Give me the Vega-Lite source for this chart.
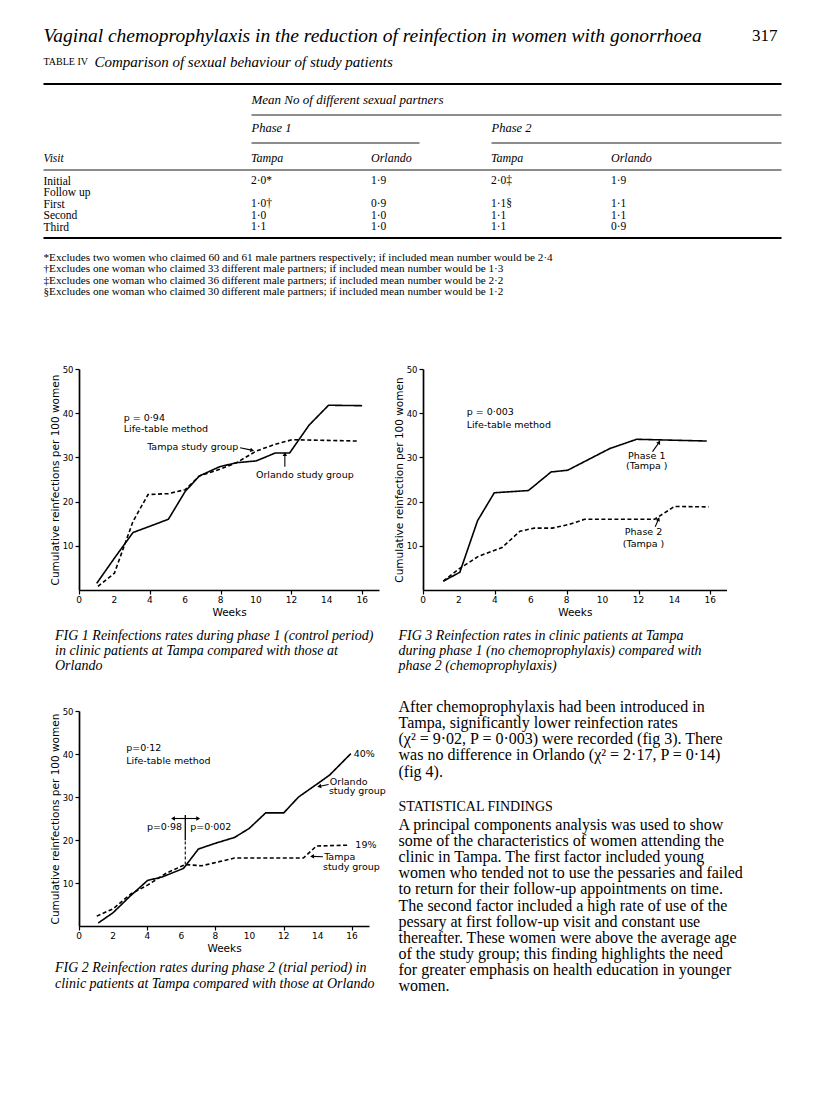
{
"$schema": "https://vega.github.io/schema/vega-lite/v6.json",
"background": "white",
"padding": {"left": 42, "top": 0, "right": 0, "bottom": 0},
"columns": 2,
"spacing": {"row": 121, "column": 0},
"bounds": "flush",
"align": "each",
"config": {
  "view": {"stroke": null},
  "axis": {"domainColor": "black", "tickColor": "black", "labelColor": "black", "titleColor": "black", "labelFont": "DejaVu Sans", "titleFont": "DejaVu Sans", "labelFontSize": 9, "titleFontSize": 10.5, "titleFontWeight": "normal", "grid": false, "domainWidth": 1.7, "tickWidth": 1.2, "tickSize": 4, "labelFlush": false, "labelOverlap": false},
  "axisY": {"labelFontSize": 8.5},
  "text": {"color": "black"},
  "rule": {"color": "black"},
  "line": {"color": "black"},
  "point": {"color": "black"},
  "title": {"color": "black"}
},
"concat": [
{
  "width": 343.5, "height": 248,
  "data": {"values": [
    {"visit": "Visit", "col": "P1 Tampa", "v": "Tampa"},
    {"visit": "Visit", "col": "P1 Orlando", "v": "Orlando"},
    {"visit": "Visit", "col": "P2 Tampa", "v": "Tampa"},
    {"visit": "Visit", "col": "P2 Orlando", "v": "Orlando"},
    {"visit": "Initial", "col": "P1 Tampa", "v": "2·0*"},
    {"visit": "Initial", "col": "P1 Orlando", "v": "1·9"},
    {"visit": "Initial", "col": "P2 Tampa", "v": "2·0‡"},
    {"visit": "Initial", "col": "P2 Orlando", "v": "1·9"},
    {"visit": "First", "col": "P1 Tampa", "v": "1·0†"},
    {"visit": "First", "col": "P1 Orlando", "v": "0·9"},
    {"visit": "First", "col": "P2 Tampa", "v": "1·1§"},
    {"visit": "First", "col": "P2 Orlando", "v": "1·1"},
    {"visit": "Second", "col": "P1 Tampa", "v": "1·0"},
    {"visit": "Second", "col": "P1 Orlando", "v": "1·0"},
    {"visit": "Second", "col": "P2 Tampa", "v": "1·1"},
    {"visit": "Second", "col": "P2 Orlando", "v": "1·1"},
    {"visit": "Third", "col": "P1 Tampa", "v": "1·1"},
    {"visit": "Third", "col": "P1 Orlando", "v": "1·0"},
    {"visit": "Third", "col": "P2 Tampa", "v": "1·1"},
    {"visit": "Third", "col": "P2 Orlando", "v": "0·9"}
  ]},
  "encoding": {
    "x": {"field": "col", "type": "nominal", "scale": {"type": "point", "domain": ["P1 Tampa", "P1 Orlando", "P2 Tampa", "P2 Orlando"], "range": [172, 532], "padding": 0}, "axis": null},
    "y": {"field": "visit", "type": "nominal", "scale": {"type": "point", "domain": ["Visit", "gap", "Initial", "Follow up", "First", "Second", "Third"], "range": [158, 227], "padding": 0},
      "axis": {"orient": "left", "title": null, "domain": false, "ticks": false, "tickSize": 0, "labelAlign": "left", "labelBaseline": "middle", "labelPadding": 36, "labelFont": "Liberation Serif", "labelFontSize": 11.5, "labelColor": "black", "labelLimit": 200,
        "labelExpr": "datum.value === 'gap' ? '' : (indexof(['First','Second','Third'], datum.value) >= 0 ? '\u00a0\u00a0\u00a0' + datum.value : datum.value)",
        "labelFontStyle": {"condition": {"test": "datum.value === 'Visit'", "value": "italic"}, "value": "normal"}}},
    "text": {"field": "v"}
  },
  "layer": [
    {"transform": [{"filter": "datum.visit === 'Visit'"}], "mark": {"type": "text", "align": "left", "baseline": "middle", "font": "Liberation Serif", "fontSize": 12, "fontStyle": "italic"}},
    {"transform": [{"filter": "datum.visit !== 'Visit'"}], "mark": {"type": "text", "align": "left", "baseline": "middle", "font": "Liberation Serif", "fontSize": 11.5}}
  ]
},
{
  "width": 303.5, "height": 248,
  "layer": [
    {"data": {"values": [{"t": "Vaginal chemoprophylaxis in the reduction of reinfection in women with gonorrhoea"}]},
     "mark": {"type": "text", "align": "left", "baseline": "middle", "font": "Liberation Serif", "fontSize": 19.5, "fontStyle": "italic"},
     "encoding": {"x": {"datum": 42, "type": "quantitative", "scale": {"domain": [421.5, 725], "nice": false, "zero": false}, "axis": null}, "y": {"datum": 36, "type": "quantitative", "scale": {"domain": [0, 248], "reverse": true, "nice": false, "zero": false}, "axis": null}, "text": {"field": "t"}}},
    {"data": {"values": [{"t": "317"}]},
     "mark": {"type": "text", "align": "right", "baseline": "middle", "font": "Liberation Serif", "fontSize": 17},
     "encoding": {"x": {"datum": 776, "type": "quantitative", "scale": {"domain": [421.5, 725], "nice": false, "zero": false}, "axis": null}, "y": {"datum": 36, "type": "quantitative", "scale": {"domain": [0, 248], "reverse": true, "nice": false, "zero": false}, "axis": null}, "text": {"field": "t"}}},
    {"data": {"values": [{"t": "TABLE IV"}]},
     "mark": {"type": "text", "align": "left", "baseline": "middle", "font": "Liberation Serif", "fontSize": 10},
     "encoding": {"x": {"datum": 42, "type": "quantitative", "scale": {"domain": [421.5, 725], "nice": false, "zero": false}, "axis": null}, "y": {"datum": 62, "type": "quantitative", "scale": {"domain": [0, 248], "reverse": true, "nice": false, "zero": false}, "axis": null}, "text": {"field": "t"}}},
    {"data": {"values": [{"t": "Comparison of sexual behaviour of study patients"}]},
     "mark": {"type": "text", "align": "left", "baseline": "middle", "font": "Liberation Serif", "fontSize": 15, "fontStyle": "italic"},
     "encoding": {"x": {"datum": 93, "type": "quantitative", "scale": {"domain": [421.5, 725], "nice": false, "zero": false}, "axis": null}, "y": {"datum": 62, "type": "quantitative", "scale": {"domain": [0, 248], "reverse": true, "nice": false, "zero": false}, "axis": null}, "text": {"field": "t"}}},
    {"data": {"values": [{"t": "Mean No of different sexual partners"}]},
     "mark": {"type": "text", "align": "left", "baseline": "middle", "font": "Liberation Serif", "fontSize": 13, "fontStyle": "italic"},
     "encoding": {"x": {"datum": 250, "type": "quantitative", "scale": {"domain": [421.5, 725], "nice": false, "zero": false}, "axis": null}, "y": {"datum": 100, "type": "quantitative", "scale": {"domain": [0, 248], "reverse": true, "nice": false, "zero": false}, "axis": null}, "text": {"field": "t"}}},
    {"data": {"values": [{"t": "Phase 1"}]},
     "mark": {"type": "text", "align": "left", "baseline": "middle", "font": "Liberation Serif", "fontSize": 12.5, "fontStyle": "italic"},
     "encoding": {"x": {"datum": 250, "type": "quantitative", "scale": {"domain": [421.5, 725], "nice": false, "zero": false}, "axis": null}, "y": {"datum": 128, "type": "quantitative", "scale": {"domain": [0, 248], "reverse": true, "nice": false, "zero": false}, "axis": null}, "text": {"field": "t"}}},
    {"data": {"values": [{"t": "Phase 2"}]},
     "mark": {"type": "text", "align": "left", "baseline": "middle", "font": "Liberation Serif", "fontSize": 12.5, "fontStyle": "italic"},
     "encoding": {"x": {"datum": 490, "type": "quantitative", "scale": {"domain": [421.5, 725], "nice": false, "zero": false}, "axis": null}, "y": {"datum": 128, "type": "quantitative", "scale": {"domain": [0, 248], "reverse": true, "nice": false, "zero": false}, "axis": null}, "text": {"field": "t"}}},
    {"data": {"values": [{}]}, "mark": {"type": "rule", "strokeWidth": 2.2},
     "encoding": {"x": {"datum": 42, "type": "quantitative", "scale": {"domain": [421.5, 725], "nice": false, "zero": false}, "axis": null}, "x2": {"datum": 780}, "y": {"datum": 84, "type": "quantitative", "scale": {"domain": [0, 248], "reverse": true, "nice": false, "zero": false}, "axis": null}}},
    {"data": {"values": [{}]}, "mark": {"type": "rule", "strokeWidth": 0.9},
     "encoding": {"x": {"datum": 250, "type": "quantitative", "scale": {"domain": [421.5, 725], "nice": false, "zero": false}, "axis": null}, "x2": {"datum": 780}, "y": {"datum": 115, "type": "quantitative", "scale": {"domain": [0, 248], "reverse": true, "nice": false, "zero": false}, "axis": null}}},
    {"data": {"values": [{}]}, "mark": {"type": "rule", "strokeWidth": 0.9},
     "encoding": {"x": {"datum": 250, "type": "quantitative", "scale": {"domain": [421.5, 725], "nice": false, "zero": false}, "axis": null}, "x2": {"datum": 418}, "y": {"datum": 143, "type": "quantitative", "scale": {"domain": [0, 248], "reverse": true, "nice": false, "zero": false}, "axis": null}}},
    {"data": {"values": [{}]}, "mark": {"type": "rule", "strokeWidth": 0.9},
     "encoding": {"x": {"datum": 490, "type": "quantitative", "scale": {"domain": [421.5, 725], "nice": false, "zero": false}, "axis": null}, "x2": {"datum": 780}, "y": {"datum": 143, "type": "quantitative", "scale": {"domain": [0, 248], "reverse": true, "nice": false, "zero": false}, "axis": null}}},
    {"data": {"values": [{}]}, "mark": {"type": "rule", "strokeWidth": 0.9},
     "encoding": {"x": {"datum": 42, "type": "quantitative", "scale": {"domain": [421.5, 725], "nice": false, "zero": false}, "axis": null}, "x2": {"datum": 780}, "y": {"datum": 170, "type": "quantitative", "scale": {"domain": [0, 248], "reverse": true, "nice": false, "zero": false}, "axis": null}}},
    {"data": {"values": [{}]}, "mark": {"type": "rule", "strokeWidth": 2.2},
     "encoding": {"x": {"datum": 42, "type": "quantitative", "scale": {"domain": [421.5, 725], "nice": false, "zero": false}, "axis": null}, "x2": {"datum": 780}, "y": {"datum": 238, "type": "quantitative", "scale": {"domain": [0, 248], "reverse": true, "nice": false, "zero": false}, "axis": null}}},
    {"data": {"values": [{"t": "*Excludes two women who claimed 60 and 61 male partners respectively; if included mean number would be 2·4\n†Excludes one woman who claimed 33 different male partners; if included mean number would be 1·3\n‡Excludes one woman who claimed 36 different male partners; if included mean number would be 2·2\n§Excludes one woman who claimed 30 different male partners; if included mean number would be 1·2"}]},
     "mark": {"type": "text", "align": "left", "baseline": "alphabetic", "font": "Liberation Serif", "fontSize": 11.2, "lineBreak": "\n", "lineHeight": 11.5},
     "encoding": {"x": {"datum": 42, "type": "quantitative", "scale": {"domain": [421.5, 725], "nice": false, "zero": false}, "axis": null}, "y": {"datum": 260.5, "type": "quantitative", "scale": {"domain": [0, 248], "reverse": true, "nice": false, "zero": false}, "axis": null}, "text": {"field": "t"}}}
  ]
},
{
  "width": 300, "height": 221,
  "title": {"text": ["FIG 1  Reinfections rates during phase 1 (control period)", "in clinic patients at Tampa compared with those at", "Orlando"], "orient": "bottom", "anchor": "start", "frame": "group", "dx": -24, "offset": 11, "font": "Liberation Serif", "fontSize": 14, "fontStyle": "italic", "fontWeight": "normal", "lineHeight": 15},
  "layer": [
    {"data": {"values": [
      {"week": 1.0, "rate": 1.5, "group": "Orlando study group"},
      {"week": 2.0, "rate": 7.2, "group": "Orlando study group"},
      {"week": 3.05, "rate": 13.0, "group": "Orlando study group"},
      {"week": 5.05, "rate": 16.0, "group": "Orlando study group"},
      {"week": 6.0, "rate": 22.3, "group": "Orlando study group"},
      {"week": 6.8, "rate": 25.8, "group": "Orlando study group"},
      {"week": 7.95, "rate": 27.9, "group": "Orlando study group"},
      {"week": 8.9, "rate": 28.8, "group": "Orlando study group"},
      {"week": 10.0, "rate": 29.2, "group": "Orlando study group"},
      {"week": 11.1, "rate": 31.0, "group": "Orlando study group"},
      {"week": 11.9, "rate": 31.0, "group": "Orlando study group"},
      {"week": 13.0, "rate": 37.3, "group": "Orlando study group"},
      {"week": 14.1, "rate": 41.8, "group": "Orlando study group"},
      {"week": 16.0, "rate": 41.7, "group": "Orlando study group"},
      {"week": 1.07, "rate": 0.8, "group": "Tampa study group"},
      {"week": 2.0, "rate": 3.8, "group": "Tampa study group"},
      {"week": 3.05, "rate": 15.5, "group": "Tampa study group"},
      {"week": 3.9, "rate": 21.6, "group": "Tampa study group"},
      {"week": 5.05, "rate": 21.8, "group": "Tampa study group"},
      {"week": 6.0, "rate": 22.7, "group": "Tampa study group"},
      {"week": 6.8, "rate": 25.8, "group": "Tampa study group"},
      {"week": 7.95, "rate": 27.3, "group": "Tampa study group"},
      {"week": 8.9, "rate": 28.8, "group": "Tampa study group"},
      {"week": 10.0, "rate": 31.4, "group": "Tampa study group"},
      {"week": 11.1, "rate": 33.0, "group": "Tampa study group"},
      {"week": 12.05, "rate": 34.0, "group": "Tampa study group"},
      {"week": 15.8, "rate": 33.7, "group": "Tampa study group"}
    ]},
     "mark": {"type": "line", "strokeWidth": 1.6},
     "encoding": {
       "x": {"field": "week", "type": "quantitative", "scale": {"domain": [0, 16.95], "nice": false, "zero": false}, "axis": {"values": [0,1,2,3,4,5,6,7,8,9,10,11,12,13,14,15,16], "labels": false, "title": "Weeks", "titlePadding": 13}},
       "y": {"field": "rate", "type": "quantitative", "scale": {"domain": [0, 50], "nice": false, "zero": false}, "axis": {"values": [10,20,30,40,50], "labelOverlap": false, "title": "Cumulative reinfections per 100 women", "titlePadding": 2, "labelPadding": 2}},
       "strokeDash": {"field": "group", "type": "nominal", "scale": {"domain": ["Orlando study group", "Tampa study group"], "range": [[1, 0], [4, 2.5]]}, "legend": null}
     }},
    {"data": {"values": [{"week": 0}, {"week": 2}, {"week": 4}, {"week": 6}, {"week": 8}, {"week": 10}, {"week": 12}, {"week": 14}, {"week": 16}]}, "mark": {"type": "text", "align": "center", "baseline": "top", "font": "DejaVu Sans", "fontSize": 9},
     "encoding": {"x": {"field": "week", "type": "quantitative", "scale": {"domain": [0, 16.95], "nice": false, "zero": false}}, "y": {"datum": -1.4, "type": "quantitative", "scale": {"domain": [0, 50], "nice": false, "zero": false}}, "text": {"field": "week", "type": "quantitative"}}},
    {"data": {"values": [{"t": "p = 0·94"}]}, "mark": {"type": "text", "align": "left", "baseline": "middle", "font": "DejaVu Sans", "fontSize": 9.5},
     "encoding": {"x": {"datum": 2.53, "type": "quantitative", "scale": {"domain": [0, 16.95], "nice": false, "zero": false}}, "y": {"datum": 39.0, "type": "quantitative", "scale": {"domain": [0, 50], "nice": false, "zero": false}}, "text": {"field": "t"}}},
    {"data": {"values": [{"t": "Life-table method"}]}, "mark": {"type": "text", "align": "left", "baseline": "middle", "font": "DejaVu Sans", "fontSize": 9.5},
     "encoding": {"x": {"datum": 2.53, "type": "quantitative", "scale": {"domain": [0, 16.95], "nice": false, "zero": false}}, "y": {"datum": 36.5, "type": "quantitative", "scale": {"domain": [0, 50], "nice": false, "zero": false}}, "text": {"field": "t"}}},
    {"data": {"values": [{"t": "Tampa study group"}]}, "mark": {"type": "text", "align": "left", "baseline": "middle", "font": "DejaVu Sans", "fontSize": 9.5},
     "encoding": {"x": {"datum": 3.85, "type": "quantitative", "scale": {"domain": [0, 16.95], "nice": false, "zero": false}}, "y": {"datum": 32.4, "type": "quantitative", "scale": {"domain": [0, 50], "nice": false, "zero": false}}, "text": {"field": "t"}}},
    {"data": {"values": [{"t": "Orlando study group"}]}, "mark": {"type": "text", "align": "left", "baseline": "middle", "font": "DejaVu Sans", "fontSize": 9.5},
     "encoding": {"x": {"datum": 10.0, "type": "quantitative", "scale": {"domain": [0, 16.95], "nice": false, "zero": false}}, "y": {"datum": 26.1, "type": "quantitative", "scale": {"domain": [0, 50], "nice": false, "zero": false}}, "text": {"field": "t"}}},
    {"data": {"values": [{}]}, "mark": {"type": "rule", "strokeWidth": 1.1},
     "encoding": {"x": {"datum": 9.1, "type": "quantitative", "scale": {"domain": [0, 16.95], "nice": false, "zero": false}}, "y": {"datum": 32.2, "type": "quantitative", "scale": {"domain": [0, 50], "nice": false, "zero": false}}, "x2": {"datum": 9.75}, "y2": {"datum": 31.65}}},
    {"data": {"values": [{}]}, "mark": {"type": "point", "shape": "triangle", "filled": true, "size": 20, "angle": 102, "opacity": 1},
     "encoding": {"x": {"datum": 9.75, "type": "quantitative", "scale": {"domain": [0, 16.95], "nice": false, "zero": false}}, "y": {"datum": 31.65, "type": "quantitative", "scale": {"domain": [0, 50], "nice": false, "zero": false}}}},
    {"data": {"values": [{}]}, "mark": {"type": "rule", "strokeWidth": 1.1},
     "encoding": {"x": {"datum": 11.63, "type": "quantitative", "scale": {"domain": [0, 16.95], "nice": false, "zero": false}}, "y": {"datum": 27.9, "type": "quantitative", "scale": {"domain": [0, 50], "nice": false, "zero": false}}, "x2": {"datum": 11.63}, "y2": {"datum": 30.6}}},
    {"data": {"values": [{}]}, "mark": {"type": "point", "shape": "triangle", "filled": true, "size": 20, "angle": 0, "opacity": 1},
     "encoding": {"x": {"datum": 11.63, "type": "quantitative", "scale": {"domain": [0, 16.95], "nice": false, "zero": false}}, "y": {"datum": 30.6, "type": "quantitative", "scale": {"domain": [0, 50], "nice": false, "zero": false}}}}
  ]
},
{
  "width": 303.5, "height": 221,
  "title": {"text": ["FIG 3  Reinfection rates in clinic patients at Tampa", "during phase 1 (no chemoprophylaxis) compared with", "phase 2 (chemoprophylaxis)"], "orient": "bottom", "anchor": "start", "frame": "group", "dx": -24.5, "offset": 11, "font": "Liberation Serif", "fontSize": 14, "fontStyle": "italic", "fontWeight": "normal", "lineHeight": 15},
  "layer": [
    {"data": {"values": [
      {"week": 1.13, "rate": 2.0, "group": "Phase 1 (Tampa)"},
      {"week": 2.05, "rate": 4.0, "group": "Phase 1 (Tampa)"},
      {"week": 3.04, "rate": 15.7, "group": "Phase 1 (Tampa)"},
      {"week": 3.97, "rate": 22.0, "group": "Phase 1 (Tampa)"},
      {"week": 5.87, "rate": 22.5, "group": "Phase 1 (Tampa)"},
      {"week": 7.13, "rate": 26.7, "group": "Phase 1 (Tampa)"},
      {"week": 8.06, "rate": 27.1, "group": "Phase 1 (Tampa)"},
      {"week": 10.4, "rate": 32.0, "group": "Phase 1 (Tampa)"},
      {"week": 11.9, "rate": 34.1, "group": "Phase 1 (Tampa)"},
      {"week": 15.8, "rate": 33.7, "group": "Phase 1 (Tampa)"},
      {"week": 1.13, "rate": 2.0, "group": "Phase 2 (Tampa)"},
      {"week": 2.05, "rate": 4.9, "group": "Phase 2 (Tampa)"},
      {"week": 3.08, "rate": 7.6, "group": "Phase 2 (Tampa)"},
      {"week": 4.4, "rate": 9.6, "group": "Phase 2 (Tampa)"},
      {"week": 5.4, "rate": 13.3, "group": "Phase 2 (Tampa)"},
      {"week": 6.2, "rate": 14.0, "group": "Phase 2 (Tampa)"},
      {"week": 7.2, "rate": 14.0, "group": "Phase 2 (Tampa)"},
      {"week": 8.1, "rate": 14.8, "group": "Phase 2 (Tampa)"},
      {"week": 9.0, "rate": 16.0, "group": "Phase 2 (Tampa)"},
      {"week": 12.9, "rate": 16.0, "group": "Phase 2 (Tampa)"},
      {"week": 14.0, "rate": 18.9, "group": "Phase 2 (Tampa)"},
      {"week": 15.9, "rate": 18.8, "group": "Phase 2 (Tampa)"}
    ]},
     "mark": {"type": "line", "strokeWidth": 1.6},
     "encoding": {
       "x": {"field": "week", "type": "quantitative", "scale": {"domain": [0, 16.9], "nice": false, "zero": false}, "axis": {"values": [0,1,2,3,4,5,6,7,8,9,10,11,12,13,14,15,16], "labels": false, "title": "Weeks", "titlePadding": 13}},
       "y": {"field": "rate", "type": "quantitative", "scale": {"domain": [0, 50], "nice": false, "zero": false}, "axis": {"values": [10,20,30,40,50], "labelOverlap": false, "title": "Cumulative reinfection per 100 women", "titlePadding": 2, "labelPadding": 2}},
       "strokeDash": {"field": "group", "type": "nominal", "scale": {"domain": ["Phase 1 (Tampa)", "Phase 2 (Tampa)"], "range": [[1, 0], [3, 2]]}, "legend": null}
     }},
    {"data": {"values": [{"week": 0}, {"week": 2}, {"week": 4}, {"week": 6}, {"week": 8}, {"week": 10}, {"week": 12}, {"week": 14}, {"week": 16}]}, "mark": {"type": "text", "align": "center", "baseline": "top", "font": "DejaVu Sans", "fontSize": 9},
     "encoding": {"x": {"field": "week", "type": "quantitative", "scale": {"domain": [0, 16.9], "nice": false, "zero": false}}, "y": {"datum": -1.4, "type": "quantitative", "scale": {"domain": [0, 50], "nice": false, "zero": false}}, "text": {"field": "week", "type": "quantitative"}}},
    {"data": {"values": [{"t": "p = 0·003"}]}, "mark": {"type": "text", "align": "left", "baseline": "middle", "font": "DejaVu Sans", "fontSize": 9.5},
     "encoding": {"x": {"datum": 2.43, "type": "quantitative", "scale": {"domain": [0, 16.9], "nice": false, "zero": false}}, "y": {"datum": 40.2, "type": "quantitative", "scale": {"domain": [0, 50], "nice": false, "zero": false}}, "text": {"field": "t"}}},
    {"data": {"values": [{"t": "Life-table method"}]}, "mark": {"type": "text", "align": "left", "baseline": "middle", "font": "DejaVu Sans", "fontSize": 9.5},
     "encoding": {"x": {"datum": 2.43, "type": "quantitative", "scale": {"domain": [0, 16.9], "nice": false, "zero": false}}, "y": {"datum": 37.3, "type": "quantitative", "scale": {"domain": [0, 50], "nice": false, "zero": false}}, "text": {"field": "t"}}},
    {"data": {"values": [{"t": "Phase 1"}]}, "mark": {"type": "text", "align": "center", "baseline": "middle", "font": "DejaVu Sans", "fontSize": 9.5},
     "encoding": {"x": {"datum": 12.46, "type": "quantitative", "scale": {"domain": [0, 16.9], "nice": false, "zero": false}}, "y": {"datum": 30.3, "type": "quantitative", "scale": {"domain": [0, 50], "nice": false, "zero": false}}, "text": {"field": "t"}}},
    {"data": {"values": [{"t": "(Tampa )"}]}, "mark": {"type": "text", "align": "center", "baseline": "middle", "font": "DejaVu Sans", "fontSize": 9.5},
     "encoding": {"x": {"datum": 12.46, "type": "quantitative", "scale": {"domain": [0, 16.9], "nice": false, "zero": false}}, "y": {"datum": 28.0, "type": "quantitative", "scale": {"domain": [0, 50], "nice": false, "zero": false}}, "text": {"field": "t"}}},
    {"data": {"values": [{"t": "Phase 2"}]}, "mark": {"type": "text", "align": "center", "baseline": "middle", "font": "DejaVu Sans", "fontSize": 9.5},
     "encoding": {"x": {"datum": 12.28, "type": "quantitative", "scale": {"domain": [0, 16.9], "nice": false, "zero": false}}, "y": {"datum": 13.1, "type": "quantitative", "scale": {"domain": [0, 50], "nice": false, "zero": false}}, "text": {"field": "t"}}},
    {"data": {"values": [{"t": "(Tampa )"}]}, "mark": {"type": "text", "align": "center", "baseline": "middle", "font": "DejaVu Sans", "fontSize": 9.5},
     "encoding": {"x": {"datum": 12.28, "type": "quantitative", "scale": {"domain": [0, 16.9], "nice": false, "zero": false}}, "y": {"datum": 10.5, "type": "quantitative", "scale": {"domain": [0, 50], "nice": false, "zero": false}}, "text": {"field": "t"}}},
    {"data": {"values": [{}]}, "mark": {"type": "rule", "strokeWidth": 1.1},
     "encoding": {"x": {"datum": 12.78, "type": "quantitative", "scale": {"domain": [0, 16.9], "nice": false, "zero": false}}, "y": {"datum": 31.3, "type": "quantitative", "scale": {"domain": [0, 50], "nice": false, "zero": false}}, "x2": {"datum": 13.13}, "y2": {"datum": 33.3}}},
    {"data": {"values": [{}]}, "mark": {"type": "point", "shape": "triangle", "filled": true, "size": 20, "angle": 32, "opacity": 1},
     "encoding": {"x": {"datum": 13.13, "type": "quantitative", "scale": {"domain": [0, 16.9], "nice": false, "zero": false}}, "y": {"datum": 33.3, "type": "quantitative", "scale": {"domain": [0, 50], "nice": false, "zero": false}}}},
    {"data": {"values": [{}]}, "mark": {"type": "rule", "strokeWidth": 1.1},
     "encoding": {"x": {"datum": 12.93, "type": "quantitative", "scale": {"domain": [0, 16.9], "nice": false, "zero": false}}, "y": {"datum": 14.3, "type": "quantitative", "scale": {"domain": [0, 50], "nice": false, "zero": false}}, "x2": {"datum": 13.1}, "y2": {"datum": 15.9}}},
    {"data": {"values": [{}]}, "mark": {"type": "point", "shape": "triangle", "filled": true, "size": 20, "angle": 23, "opacity": 1},
     "encoding": {"x": {"datum": 13.1, "type": "quantitative", "scale": {"domain": [0, 16.9], "nice": false, "zero": false}}, "y": {"datum": 15.9, "type": "quantitative", "scale": {"domain": [0, 50], "nice": false, "zero": false}}}}
  ]
},
{
  "width": 290, "height": 215,
  "title": {"text": ["FIG 2  Reinfection rates during phase 2 (trial period) in", "clinic patients at Tampa compared with those at Orlando"], "orient": "bottom", "anchor": "start", "frame": "group", "dx": -24, "offset": 7, "font": "Liberation Serif", "fontSize": 14, "fontStyle": "italic", "fontWeight": "normal", "lineHeight": 15.5},
  "layer": [
    {"data": {"values": [
      {"week": 1.13, "rate": 0.7, "group": "Orlando study group"},
      {"week": 2.0, "rate": 3.1, "group": "Orlando study group"},
      {"week": 2.96, "rate": 6.8, "group": "Orlando study group"},
      {"week": 4.02, "rate": 10.6, "group": "Orlando study group"},
      {"week": 4.88, "rate": 11.4, "group": "Orlando study group"},
      {"week": 6.13, "rate": 13.4, "group": "Orlando study group"},
      {"week": 7.0, "rate": 17.9, "group": "Orlando study group"},
      {"week": 7.96, "rate": 19.2, "group": "Orlando study group"},
      {"week": 9.12, "rate": 20.6, "group": "Orlando study group"},
      {"week": 9.98, "rate": 22.7, "group": "Orlando study group"},
      {"week": 10.94, "rate": 26.3, "group": "Orlando study group"},
      {"week": 12.0, "rate": 26.3, "group": "Orlando study group"},
      {"week": 12.87, "rate": 30.0, "group": "Orlando study group"},
      {"week": 14.02, "rate": 33.2, "group": "Orlando study group"},
      {"week": 14.69, "rate": 35.1, "group": "Orlando study group"},
      {"week": 15.94, "rate": 40.1, "group": "Orlando study group"},
      {"week": 1.04, "rate": 2.3, "group": "Tampa study group"},
      {"week": 2.0, "rate": 4.0, "group": "Tampa study group"},
      {"week": 3.06, "rate": 7.5, "group": "Tampa study group"},
      {"week": 4.02, "rate": 9.5, "group": "Tampa study group"},
      {"week": 5.08, "rate": 12.2, "group": "Tampa study group"},
      {"week": 6.23, "rate": 14.3, "group": "Tampa study group"},
      {"week": 7.19, "rate": 14.0, "group": "Tampa study group"},
      {"week": 9.12, "rate": 15.8, "group": "Tampa study group"},
      {"week": 13.15, "rate": 15.8, "group": "Tampa study group"},
      {"week": 13.92, "rate": 18.6, "group": "Tampa study group"},
      {"week": 15.85, "rate": 18.8, "group": "Tampa study group"}
    ]},
     "mark": {"type": "line", "strokeWidth": 1.6},
     "encoding": {
       "x": {"field": "week", "type": "quantitative", "scale": {"domain": [0, 17], "nice": false, "zero": false}, "axis": {"values": [0,1,2,3,4,5,6,7,8,9,10,11,12,13,14,15,16], "labels": false, "title": "Weeks", "titlePadding": 13}},
       "y": {"field": "rate", "type": "quantitative", "scale": {"domain": [0, 50], "nice": false, "zero": false}, "axis": {"values": [10,20,30,40,50], "labelOverlap": false, "title": "Cumulative reinfections per 100 women", "titlePadding": 2, "labelPadding": 2}},
       "strokeDash": {"field": "group", "type": "nominal", "scale": {"domain": ["Orlando study group", "Tampa study group"], "range": [[1, 0], [4, 2.5]]}, "legend": null}
     }},
    {"data": {"values": [{"week": 0}, {"week": 2}, {"week": 4}, {"week": 6}, {"week": 8}, {"week": 10}, {"week": 12}, {"week": 14}, {"week": 16}]}, "mark": {"type": "text", "align": "center", "baseline": "top", "font": "DejaVu Sans", "fontSize": 9},
     "encoding": {"x": {"field": "week", "type": "quantitative", "scale": {"domain": [0, 17], "nice": false, "zero": false}}, "y": {"datum": -1.4, "type": "quantitative", "scale": {"domain": [0, 50], "nice": false, "zero": false}}, "text": {"field": "week", "type": "quantitative"}}},
    {"data": {"values": [{"t": "p=0·12"}]}, "mark": {"type": "text", "align": "left", "baseline": "middle", "font": "DejaVu Sans", "fontSize": 9.5},
     "encoding": {"x": {"datum": 2.77, "type": "quantitative", "scale": {"domain": [0, 17], "nice": false, "zero": false}}, "y": {"datum": 41.3, "type": "quantitative", "scale": {"domain": [0, 50], "nice": false, "zero": false}}, "text": {"field": "t"}}},
    {"data": {"values": [{"t": "Life-table method"}]}, "mark": {"type": "text", "align": "left", "baseline": "middle", "font": "DejaVu Sans", "fontSize": 9.5},
     "encoding": {"x": {"datum": 2.77, "type": "quantitative", "scale": {"domain": [0, 17], "nice": false, "zero": false}}, "y": {"datum": 38.4, "type": "quantitative", "scale": {"domain": [0, 50], "nice": false, "zero": false}}, "text": {"field": "t"}}},
    {"data": {"values": [{}]}, "mark": {"type": "rule", "strokeWidth": 1.1, "strokeDash": [3, 2]},
     "encoding": {"x": {"datum": 6.23, "type": "quantitative", "scale": {"domain": [0, 17], "nice": false, "zero": false}}, "y": {"datum": 14.3, "type": "quantitative", "scale": {"domain": [0, 50], "nice": false, "zero": false}}, "x2": {"datum": 6.23}, "y2": {"datum": 19.95}}},
    {"data": {"values": [{}]}, "mark": {"type": "rule", "strokeWidth": 1.3},
     "encoding": {"x": {"datum": 6.23, "type": "quantitative", "scale": {"domain": [0, 17], "nice": false, "zero": false}}, "y": {"datum": 19.95, "type": "quantitative", "scale": {"domain": [0, 50], "nice": false, "zero": false}}, "x2": {"datum": 6.23}, "y2": {"datum": 25.8}}},
    {"data": {"values": [{}]}, "mark": {"type": "rule", "strokeWidth": 1.1},
     "encoding": {"x": {"datum": 5.55, "type": "quantitative", "scale": {"domain": [0, 17], "nice": false, "zero": false}}, "y": {"datum": 25.0, "type": "quantitative", "scale": {"domain": [0, 50], "nice": false, "zero": false}}, "x2": {"datum": 6.95}, "y2": {"datum": 25.0}}},
    {"data": {"values": [{}]}, "mark": {"type": "point", "shape": "triangle", "filled": true, "size": 20, "angle": 270, "opacity": 1},
     "encoding": {"x": {"datum": 5.55, "type": "quantitative", "scale": {"domain": [0, 17], "nice": false, "zero": false}}, "y": {"datum": 25.0, "type": "quantitative", "scale": {"domain": [0, 50], "nice": false, "zero": false}}}},
    {"data": {"values": [{}]}, "mark": {"type": "point", "shape": "triangle", "filled": true, "size": 20, "angle": 90, "opacity": 1},
     "encoding": {"x": {"datum": 6.95, "type": "quantitative", "scale": {"domain": [0, 17], "nice": false, "zero": false}}, "y": {"datum": 25.0, "type": "quantitative", "scale": {"domain": [0, 50], "nice": false, "zero": false}}}},
    {"data": {"values": [{"t": "p=0·98"}]}, "mark": {"type": "text", "align": "right", "baseline": "middle", "font": "DejaVu Sans", "fontSize": 9.5},
     "encoding": {"x": {"datum": 6.04, "type": "quantitative", "scale": {"domain": [0, 17], "nice": false, "zero": false}}, "y": {"datum": 23.1, "type": "quantitative", "scale": {"domain": [0, 50], "nice": false, "zero": false}}, "text": {"field": "t"}}},
    {"data": {"values": [{"t": "p=0·002"}]}, "mark": {"type": "text", "align": "left", "baseline": "middle", "font": "DejaVu Sans", "fontSize": 9.5},
     "encoding": {"x": {"datum": 6.52, "type": "quantitative", "scale": {"domain": [0, 17], "nice": false, "zero": false}}, "y": {"datum": 23.1, "type": "quantitative", "scale": {"domain": [0, 50], "nice": false, "zero": false}}, "text": {"field": "t"}}},
    {"data": {"values": [{"t": "40%"}]}, "mark": {"type": "text", "align": "left", "baseline": "middle", "font": "DejaVu Sans", "fontSize": 9.5},
     "encoding": {"x": {"datum": 16.1, "type": "quantitative", "scale": {"domain": [0, 17], "nice": false, "zero": false}}, "y": {"datum": 40.1, "type": "quantitative", "scale": {"domain": [0, 50], "nice": false, "zero": false}}, "text": {"field": "t"}}},
    {"data": {"values": [{"t": "19%"}]}, "mark": {"type": "text", "align": "left", "baseline": "middle", "font": "DejaVu Sans", "fontSize": 9.5},
     "encoding": {"x": {"datum": 16.2, "type": "quantitative", "scale": {"domain": [0, 17], "nice": false, "zero": false}}, "y": {"datum": 18.8, "type": "quantitative", "scale": {"domain": [0, 50], "nice": false, "zero": false}}, "text": {"field": "t"}}},
    {"data": {"values": [{"t": "Orlando"}]}, "mark": {"type": "text", "align": "left", "baseline": "middle", "font": "DejaVu Sans", "fontSize": 9.5},
     "encoding": {"x": {"datum": 14.7, "type": "quantitative", "scale": {"domain": [0, 17], "nice": false, "zero": false}}, "y": {"datum": 33.5, "type": "quantitative", "scale": {"domain": [0, 50], "nice": false, "zero": false}}, "text": {"field": "t"}}},
    {"data": {"values": [{"t": "study group"}]}, "mark": {"type": "text", "align": "left", "baseline": "middle", "font": "DejaVu Sans", "fontSize": 9.5},
     "encoding": {"x": {"datum": 14.65, "type": "quantitative", "scale": {"domain": [0, 17], "nice": false, "zero": false}}, "y": {"datum": 31.4, "type": "quantitative", "scale": {"domain": [0, 50], "nice": false, "zero": false}}, "text": {"field": "t"}}},
    {"data": {"values": [{}]}, "mark": {"type": "rule", "strokeWidth": 1.1},
     "encoding": {"x": {"datum": 14.63, "type": "quantitative", "scale": {"domain": [0, 17], "nice": false, "zero": false}}, "y": {"datum": 32.9, "type": "quantitative", "scale": {"domain": [0, 50], "nice": false, "zero": false}}, "x2": {"datum": 14.12}, "y2": {"datum": 32.5}}},
    {"data": {"values": [{}]}, "mark": {"type": "point", "shape": "triangle", "filled": true, "size": 20, "angle": 259, "opacity": 1},
     "encoding": {"x": {"datum": 14.12, "type": "quantitative", "scale": {"domain": [0, 17], "nice": false, "zero": false}}, "y": {"datum": 32.5, "type": "quantitative", "scale": {"domain": [0, 50], "nice": false, "zero": false}}}},
    {"data": {"values": [{"t": "Tampa"}]}, "mark": {"type": "text", "align": "left", "baseline": "middle", "font": "DejaVu Sans", "fontSize": 9.5},
     "encoding": {"x": {"datum": 14.37, "type": "quantitative", "scale": {"domain": [0, 17], "nice": false, "zero": false}}, "y": {"datum": 16.1, "type": "quantitative", "scale": {"domain": [0, 50], "nice": false, "zero": false}}, "text": {"field": "t"}}},
    {"data": {"values": [{"t": "study group"}]}, "mark": {"type": "text", "align": "left", "baseline": "middle", "font": "DejaVu Sans", "fontSize": 9.5},
     "encoding": {"x": {"datum": 14.3, "type": "quantitative", "scale": {"domain": [0, 17], "nice": false, "zero": false}}, "y": {"datum": 13.7, "type": "quantitative", "scale": {"domain": [0, 50], "nice": false, "zero": false}}, "text": {"field": "t"}}},
    {"data": {"values": [{}]}, "mark": {"type": "rule", "strokeWidth": 1.1},
     "encoding": {"x": {"datum": 14.3, "type": "quantitative", "scale": {"domain": [0, 17], "nice": false, "zero": false}}, "y": {"datum": 16.1, "type": "quantitative", "scale": {"domain": [0, 50], "nice": false, "zero": false}}, "x2": {"datum": 13.7}, "y2": {"datum": 16.2}}},
    {"data": {"values": [{}]}, "mark": {"type": "point", "shape": "triangle", "filled": true, "size": 20, "angle": 266, "opacity": 1},
     "encoding": {"x": {"datum": 13.7, "type": "quantitative", "scale": {"domain": [0, 17], "nice": false, "zero": false}}, "y": {"datum": 16.2, "type": "quantitative", "scale": {"domain": [0, 50], "nice": false, "zero": false}}}}
  ]
},
{
  "width": 303.5, "height": 215,
  "layer": [
    {"data": {"values": [{"t": "After chemoprophylaxis had been introduced in\nTampa, significantly lower reinfection rates\n(χ² = 9·02, P = 0·003) were recorded (fig 3). There\nwas no difference in Orlando (χ² = 2·17, P = 0·14)\n(fig 4)."}]},
     "mark": {"type": "text", "align": "left", "baseline": "alphabetic", "font": "Liberation Serif", "fontSize": 16, "lineBreak": "\n", "lineHeight": 16.25},
     "encoding": {"x": {"datum": 397, "type": "quantitative", "scale": {"domain": [421.5, 725], "nice": false, "zero": false}, "axis": null}, "y": {"datum": 711.5, "type": "quantitative", "scale": {"domain": [711, 926], "reverse": true, "nice": false, "zero": false}, "axis": null}, "text": {"field": "t"}}},
    {"data": {"values": [{"t": "STATISTICAL FINDINGS"}]},
     "mark": {"type": "text", "align": "left", "baseline": "alphabetic", "font": "Liberation Serif", "fontSize": 14},
     "encoding": {"x": {"datum": 397, "type": "quantitative", "scale": {"domain": [421.5, 725], "nice": false, "zero": false}, "axis": null}, "y": {"datum": 810.5, "type": "quantitative", "scale": {"domain": [711, 926], "reverse": true, "nice": false, "zero": false}, "axis": null}, "text": {"field": "t"}}},
    {"data": {"values": [{"t": "A principal components analysis was used to show\nsome of the characteristics of women attending the\nclinic in Tampa. The first factor included young\nwomen who tended not to use the pessaries and failed\nto return for their follow-up appointments on time.\nThe second factor included a high rate of use of the\npessary at first follow-up visit and constant use\nthereafter. These women were above the average age\nof the study group; this finding highlights the need\nfor greater emphasis on health education in younger\nwomen."}]},
     "mark": {"type": "text", "align": "left", "baseline": "alphabetic", "font": "Liberation Serif", "fontSize": 16, "lineBreak": "\n", "lineHeight": 16.2},
     "encoding": {"x": {"datum": 397, "type": "quantitative", "scale": {"domain": [421.5, 725], "nice": false, "zero": false}, "axis": null}, "y": {"datum": 829.5, "type": "quantitative", "scale": {"domain": [711, 926], "reverse": true, "nice": false, "zero": false}, "axis": null}, "text": {"field": "t"}}}
  ]
}
]
}
